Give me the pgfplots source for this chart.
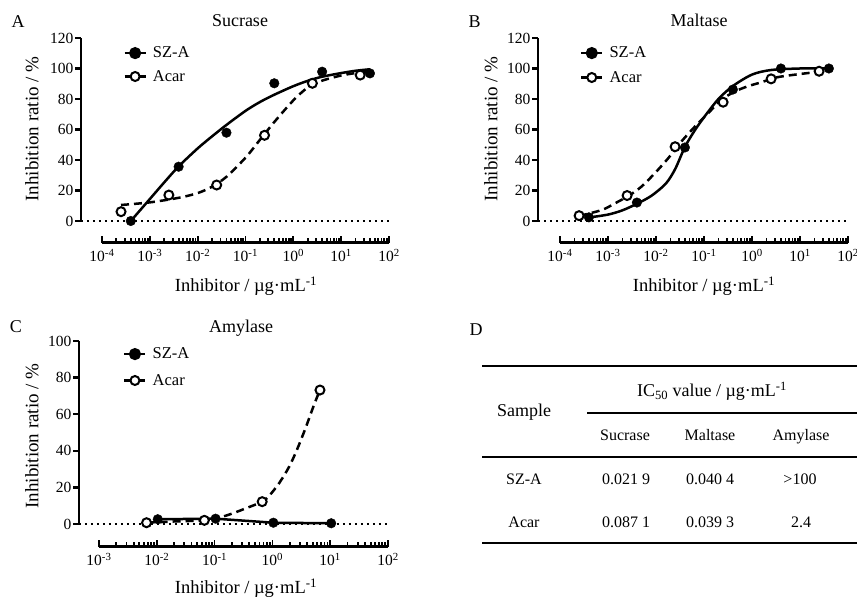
\documentclass[border=0pt]{standalone}
\usepackage{pgfplots}
\pgfplotsset{compat=1.18}
\usepackage{fontspec}
\setmainfont{Liberation Serif}
\newcommand{\fs}[1]{\fontsize{#1}{#1}\selectfont}
\pgfplotsset{
  legend image code/.code={\draw[mark repeat=2,mark phase=2,#1] plot coordinates {(0pt,0pt) (10.5pt,0pt) (21pt,0pt)};},
}
\pgfplotsset{
  mainax/.style={
    scale only axis, clip=false, height=183pt,
    axis x line=none, axis y line*=left,
    axis line style={line width=2.8pt, -},
    every outer y axis line/.append style={line width=2.8pt, -},
    ymin=0,
    tick align=outside, tick style={line width=2.4pt, black}, major tick length=6pt,
    yticklabel style={font=\fs{15.5}, /pgf/number format/assume math mode=true, xshift=2pt},
    legend style={draw=none, fill=none, font=\fs{16.5}, anchor=north west, inner sep=0pt,
      nodes={inner xsep=6pt, inner ysep=1pt}},
    legend cell align=left,
  },
  xax/.style={
    scale only axis, height=10pt, ymin=0, ymax=1,
    axis x line*=bottom, axis y line=none, ytick=\empty,
    axis line style={line width=3pt, -},
    every outer x axis line/.append style={line width=3pt, -},
    tick align=inside, tick style={line width=1.8pt, black}, major tick length=6.5pt, minor tick length=4.5pt,
    xticklabel style={font=\fs{15.5}, yshift=-3pt},
  },
  szfit/.style={black, line width=2.5pt, smooth, no marks},
  acfit/.style={black, line width=2.5pt, smooth, no marks, dash pattern=on 8pt off 5pt},
  szpt/.style={only marks, mark=*, mark size=4.8pt, black},
  acpt/.style={only marks, mark=*, mark size=4.5pt, mark options={fill=white, draw=black, line width=2pt}},
  zline/.style={black, line width=1.8pt, dash pattern=on 1.6pt off 4.4pt, no marks},
}
\newcommand{\szlegend}{\addlegendimage{black, line width=2.5pt, mark=*, mark size=4.8pt}\addlegendentry{SZ-A}}
\newcommand{\aclegend}{\addlegendimage{black, line width=2.5pt, dash pattern=on 7pt off 7pt, mark=*, mark size=4.5pt, mark options={fill=white, solid, line width=2pt}}\addlegendentry{Acar}}
\begin{document}
\begin{tikzpicture}
\useasboundingbox (0,0) rectangle (857pt,602pt);

% ---------------- Panel A: Sucrase ----------------
\begin{axis}[xmode=log, mainax, at={(81pt,381pt)}, anchor=south west, width=308pt,
  xmin=3.64e-5, xmax=100, ymax=120, ytick={0,20,40,60,80,100,120},
  legend style={at={(0.137,0.958)}, row sep=9pt}]
\szlegend
\aclegend
\addplot[zline, forget plot] coordinates {(3.64e-5,0) (100,0)};
\addplot[szfit, forget plot] coordinates {
 (4e-4,0) (1e-3,14.4) (2e-3,25.3) (4e-3,35.8) (1e-2,47.6) (2e-2,55.5) (4e-2,63)
 (0.1,72.2) (0.2,78) (0.4,82.8) (1,88.4) (2,91.9) (4,94.6) (10,97) (20,98.5) (40,99.5)};
\addplot[acfit, forget plot] coordinates {
 (2.5e-4,10.5) (1e-3,12.2) (4e-3,15.2) (1e-2,18.3) (2e-2,22.5) (4e-2,29) (0.1,41.5)
 (0.2,53.2) (0.4,64.9) (1,79.1) (2,87.5) (4,92) (10,95.4) (20,97) (40,98)};
\addplot[szpt, forget plot] coordinates {(4e-4,0) (4e-3,35.6) (4e-2,57.9) (0.4,90.3) (4,97.9) (40,96.8)};
\addplot[acpt, forget plot] coordinates {(2.5e-4,6.1) (2.5e-3,17) (2.5e-2,23.6) (0.25,56.2) (2.5,90.3) (25,95.7)};
\end{axis}
\begin{axis}[xmode=log, xax, at={(102pt,359pt)}, anchor=south west, width=287pt, xmin=1e-4, xmax=100,
  xtick={1e-4,1e-3,1e-2,1e-1,1,10,100},
  xticklabels={10\textsuperscript{-4},10\textsuperscript{-3},10\textsuperscript{-2},10\textsuperscript{-1},10\textsuperscript{0},10\textsuperscript{1},10\textsuperscript{2}},
  minor xtick={2e-4,3e-4,4e-4,5e-4,6e-4,7e-4,8e-4,9e-4,2e-3,3e-3,4e-3,5e-3,6e-3,7e-3,8e-3,9e-3,0.02,0.03,0.04,0.05,0.06,0.07,0.08,0.09,0.2,0.3,0.4,0.5,0.6,0.7,0.8,0.9,2,3,4,5,6,7,8,9,20,30,40,50,60,70,80,90}]
\addplot[draw=none, forget plot] coordinates {(1,0.5)};
\end{axis}

% ---------------- Panel B: Maltase ----------------
\begin{axis}[xmode=log, mainax, at={(538pt,381pt)}, anchor=south west, width=310pt,
  xmin=3.48e-5, xmax=100, ymax=120, ytick={0,20,40,60,80,100,120},
  legend style={at={(0.135,0.958)}, row sep=10pt}]
\szlegend
\aclegend
\addplot[zline, forget plot] coordinates {(3.48e-5,0) (100,0)};
\addplot[szfit, forget plot] coordinates {
 (4e-4,2.3) (1e-3,4.2) (2e-3,7) (4e-3,11.3) (8e-3,16.5) (1.6e-2,24.5) (2.5e-2,34) (4e-2,48.5)
 (6.3e-2,59) (0.1,68) (0.2,80) (0.4,88.5) (1,96) (2.5,99) (10,100) (40,100)};
\addplot[acfit, forget plot] coordinates {
 (2.5e-4,3.3) (7.4e-4,7.2) (1.4e-3,11.6) (2.75e-3,16.7) (5e-3,22.6) (9.5e-3,31.4) (1.8e-2,41.2)
 (3.4e-2,52.2) (6.5e-2,62) (0.123,70.8) (0.234,79.6) (0.447,85) (0.83,88.4) (1.58,91) (3,93.9)
 (5.75,95.4) (24,97.8) (40,98.3)};
\addplot[szpt, forget plot] coordinates {(4e-4,2.4) (4e-3,12.1) (4e-2,48.2) (0.4,86.2) (4,100) (40,100)};
\addplot[acpt, forget plot] coordinates {(2.5e-4,3.5) (2.5e-3,16.7) (2.5e-2,48.7) (0.25,77.9) (2.5,93.2) (25,98.2)};
\end{axis}
\begin{axis}[xmode=log, xax, at={(560pt,359pt)}, anchor=south west, width=288pt, xmin=1e-4, xmax=100,
  xtick={1e-4,1e-3,1e-2,1e-1,1,10,100},
  xticklabels={10\textsuperscript{-4},10\textsuperscript{-3},10\textsuperscript{-2},10\textsuperscript{-1},10\textsuperscript{0},10\textsuperscript{1},10\textsuperscript{2}},
  minor xtick={2e-4,3e-4,4e-4,5e-4,6e-4,7e-4,8e-4,9e-4,2e-3,3e-3,4e-3,5e-3,6e-3,7e-3,8e-3,9e-3,0.02,0.03,0.04,0.05,0.06,0.07,0.08,0.09,0.2,0.3,0.4,0.5,0.6,0.7,0.8,0.9,2,3,4,5,6,7,8,9,20,30,40,50,60,70,80,90}]
\addplot[draw=none, forget plot] coordinates {(1,0.5)};
\end{axis}

% ---------------- Panel C: Amylase ----------------
\begin{axis}[xmode=log, mainax, at={(79pt,78pt)}, anchor=south west, width=310pt,
  xmin=4.34e-4, xmax=100, ymax=100, ytick={0,20,40,60,80,100},
  legend style={at={(0.142,0.969)}, row sep=12pt}]
\szlegend
\aclegend
\addplot[zline, forget plot] coordinates {(4.34e-4,0) (100,0)};
\addplot[black, line width=2.5pt, no marks, forget plot] coordinates {(0.01,2.6) (0.1,2.9) (1,0.7) (10,0.4)};
\addplot[acfit, forget plot] coordinates {
 (0.0064,0.7) (0.02,1.4) (0.064,2.0) (0.116,3.5) (0.197,5.8) (0.336,8.6) (0.64,12.2) (0.85,15.5)
 (1.27,22.5) (1.89,31.5) (2.63,41.5) (3.66,53) (5.1,65.5) (6.4,73.2)};
\addplot[szpt, forget plot] coordinates {(0.01,2.6) (0.1,2.9) (1,0.7) (10,0.4)};
\addplot[acpt, forget plot] coordinates {(0.0064,0.7) (0.064,2.0) (0.64,12.2) (6.4,73.2)};
\end{axis}
\begin{axis}[xmode=log, xax, at={(99pt,55pt)}, anchor=south west, width=289pt, xmin=1e-3, xmax=100,
  xtick={1e-3,1e-2,1e-1,1,10,100},
  xticklabels={10\textsuperscript{-3},10\textsuperscript{-2},10\textsuperscript{-1},10\textsuperscript{0},10\textsuperscript{1},10\textsuperscript{2}},
  minor xtick={2e-3,3e-3,4e-3,5e-3,6e-3,7e-3,8e-3,9e-3,0.02,0.03,0.04,0.05,0.06,0.07,0.08,0.09,0.2,0.3,0.4,0.5,0.6,0.7,0.8,0.9,2,3,4,5,6,7,8,9,20,30,40,50,60,70,80,90}]
\addplot[draw=none, forget plot] coordinates {(1,0.5)};
\end{axis}

% ---------------- Titles, panel letters, axis labels ----------------
\begin{scope}[every node/.style={font=\fs{18}, inner sep=0pt}]
\node[anchor=base] at (18pt,574pt) {A};
\node[anchor=base] at (240pt,575pt) {Sucrase};
\node[anchor=base] at (474.5pt,574pt) {B};
\node[anchor=base] at (699pt,575pt) {Maltase};
\node[anchor=base] at (16pt,269pt) {C};
\node[anchor=base] at (241pt,269.5pt) {Amylase};
\node[anchor=base] at (476pt,266pt) {D};
\node[anchor=base, font=\fs{18.5}] at (246pt,310pt) {Inhibitor / µg·mL\textsuperscript{-1}};
\node[anchor=base, font=\fs{18.5}] at (704pt,310pt) {Inhibitor / µg·mL\textsuperscript{-1}};
\node[anchor=base, font=\fs{18.5}] at (246pt,8pt) {Inhibitor / µg·mL\textsuperscript{-1}};
\node[rotate=90, font=\fs{19}] at (32pt,473pt) {Inhibition ratio / \%};
\node[rotate=90, font=\fs{19}] at (491pt,473pt) {Inhibition ratio / \%};
\node[rotate=90, font=\fs{19}] at (32pt,166pt) {Inhibition ratio / \%};
\end{scope}

% ---------------- Panel D: table ----------------
\draw[line width=1.6pt] (482pt,236pt) -- (857pt,236pt);
\draw[line width=1.4pt] (587pt,189pt) -- (857pt,189pt);
\draw[line width=1.4pt] (482pt,145pt) -- (857pt,145pt);
\draw[line width=1.6pt] (482pt,59pt) -- (857pt,59pt);
\begin{scope}[every node/.style={inner sep=0pt, anchor=base}]
\node[font=\fs{18}] at (712pt,205pt) {IC\textsubscript{50} value / µg·mL\textsuperscript{-1}};
\node[font=\fs{18}] at (524pt,185pt) {Sample};
\node[font=\fs{16}] at (625pt,161pt) {Sucrase};
\node[font=\fs{16}] at (710pt,161pt) {Maltase};
\node[font=\fs{16}] at (801pt,161pt) {Amylase};
\node[font=\fs{16}] at (524pt,117pt) {SZ-A};
\node[font=\fs{16}] at (626pt,117pt) {0.021~9};
\node[font=\fs{16}] at (710pt,117pt) {0.040~4};
\node[font=\fs{16}] at (800pt,117pt) {>100};
\node[font=\fs{16}] at (524pt,74pt) {Acar};
\node[font=\fs{16}] at (626pt,74pt) {0.087~1};
\node[font=\fs{16}] at (710pt,74pt) {0.039~3};
\node[font=\fs{16}] at (801pt,74pt) {2.4};
\end{scope}
\end{tikzpicture}
\end{document}
